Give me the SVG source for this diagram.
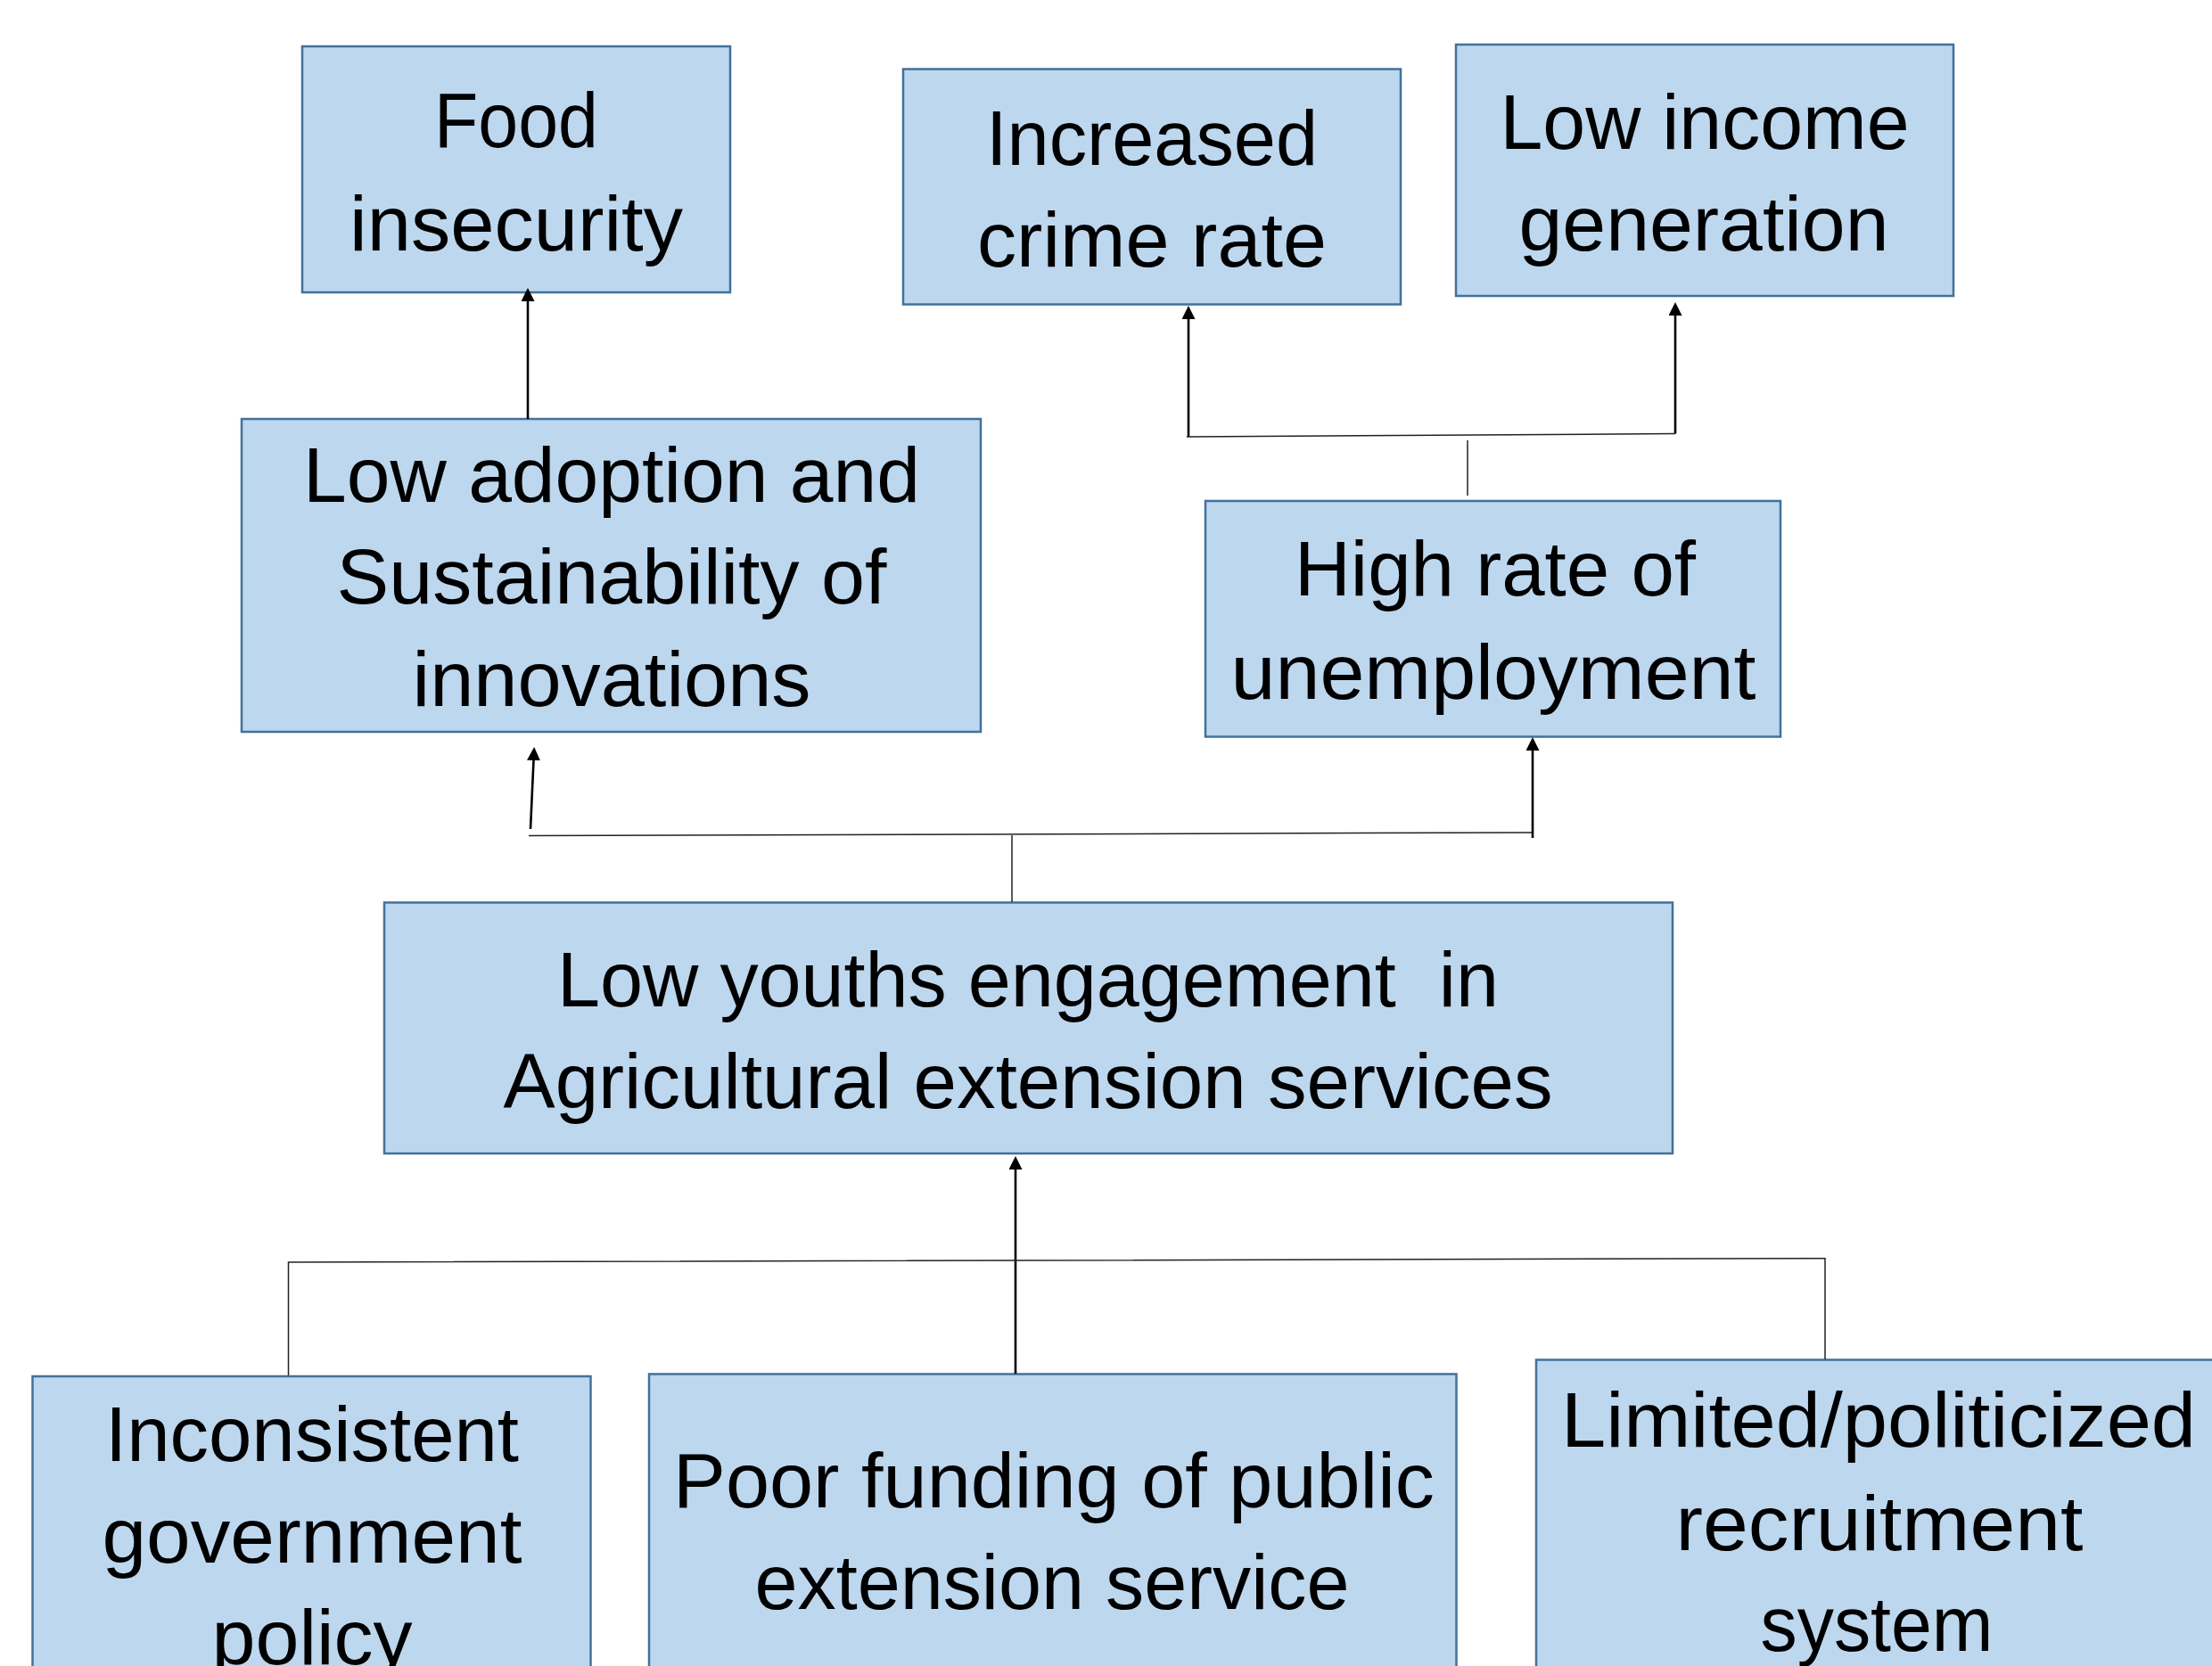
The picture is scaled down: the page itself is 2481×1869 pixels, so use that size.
<svg xmlns="http://www.w3.org/2000/svg" width="2481" height="1869" viewBox="0 0 2481 1869">
<style>
.box{fill:#BDD7EE;stroke:#41719C;stroke-width:2.5}
.t{font-family:"Liberation Sans",Arial,sans-serif;font-size:88px;fill:#000;text-anchor:middle;white-space:pre}
.arr{stroke:#000;stroke-width:2.6;fill:none;marker-end:url(#ah)}
.ln{stroke:#222;stroke-width:1.5;fill:none}
</style>
<defs>
<marker id="ah" viewBox="0 0 15 15" refX="11" refY="7.5" markerWidth="15" markerHeight="15" markerUnits="userSpaceOnUse" orient="auto">
<path d="M0,0 L15,7.5 L0,15 z" fill="#000"/>
</marker>
</defs>
<rect width="2481" height="1869" fill="#fff"/>
<g id="food-insecurity">
<rect class="box" x="339" y="52" width="480" height="276"/>
<text class="t" x="579" y="165" textLength="184" lengthAdjust="spacingAndGlyphs">Food</text>
<text class="t" x="579" y="281" textLength="374" lengthAdjust="spacingAndGlyphs">insecurity</text>
</g>
<g id="increased-crime-rate">
<rect class="box" x="1013" y="77.5" width="558" height="264"/>
<text class="t" x="1292" y="185" textLength="372" lengthAdjust="spacingAndGlyphs">Increased</text>
<text class="t" x="1292" y="298.5" textLength="392" lengthAdjust="spacingAndGlyphs">crime rate</text>
</g>
<g id="low-income-generation">
<rect class="box" x="1633" y="50" width="558" height="282"/>
<text class="t" x="1912" y="166.5" textLength="459" lengthAdjust="spacingAndGlyphs">Low income</text>
<text class="t" x="1911" y="281" textLength="415" lengthAdjust="spacingAndGlyphs">generation</text>
</g>
<g id="low-adoption">
<rect class="box" x="271" y="470" width="829" height="351"/>
<text class="t" x="686" y="563" textLength="692" lengthAdjust="spacingAndGlyphs">Low adoption and</text>
<text class="t" x="686" y="677" textLength="617" lengthAdjust="spacingAndGlyphs">Sustainability of</text>
<text class="t" x="686" y="792" textLength="447" lengthAdjust="spacingAndGlyphs">innovations</text>
</g>
<g id="high-unemployment">
<rect class="box" x="1352" y="562" width="645" height="264.5"/>
<text class="t" x="1677" y="668" textLength="450" lengthAdjust="spacingAndGlyphs">High rate of</text>
<text class="t" x="1675" y="784" textLength="589" lengthAdjust="spacingAndGlyphs">unemployment</text>
</g>
<g id="low-youths-engagement">
<rect class="box" x="431" y="1012.5" width="1445" height="281.5"/>
<text class="t" x="1153" y="1129" textLength="1056" lengthAdjust="spacingAndGlyphs">Low youths engagement  in</text>
<text class="t" x="1153" y="1243" textLength="1177" lengthAdjust="spacingAndGlyphs">Agricultural extension services</text>
</g>
<g id="inconsistent-policy">
<rect class="box" x="36.5" y="1544" width="626" height="340"/>
<text class="t" x="350" y="1639" textLength="464" lengthAdjust="spacingAndGlyphs">Inconsistent</text>
<text class="t" x="350" y="1753" textLength="471" lengthAdjust="spacingAndGlyphs">government</text>
<text class="t" x="350" y="1867" textLength="225" lengthAdjust="spacingAndGlyphs">policy</text>
</g>
<g id="poor-funding">
<rect class="box" x="728" y="1541.5" width="905.5" height="342"/>
<text class="t" x="1182" y="1691" textLength="854" lengthAdjust="spacingAndGlyphs">Poor funding of public</text>
<text class="t" x="1180" y="1805" textLength="667" lengthAdjust="spacingAndGlyphs">extension service</text>
</g>
<g id="limited-recruitment">
<rect class="box" x="1723" y="1525.5" width="770" height="360"/>
<text class="t" x="2107" y="1623" textLength="712" lengthAdjust="spacingAndGlyphs">Limited/politicized</text>
<text class="t" x="2108" y="1739" textLength="457" lengthAdjust="spacingAndGlyphs">recruitment</text>
<text class="t" x="2105" y="1852" textLength="261" lengthAdjust="spacingAndGlyphs">system</text>
</g>
<g id="connectors">
<line class="arr" x1="592" y1="470" x2="592" y2="327"/>
<line class="arr" x1="595" y1="930" x2="599" y2="842"/>
<line class="ln" x1="593" y1="937.5" x2="1719" y2="934"/>
<line class="ln" x1="1135" y1="937" x2="1135" y2="1012"/>
<line class="arr" x1="1719" y1="940" x2="1719" y2="831"/>
<line class="arr" x1="1333" y1="490" x2="1333" y2="347"/>
<line class="arr" x1="1879" y1="486.5" x2="1879" y2="343"/>
<line class="ln" x1="1331" y1="490" x2="1879" y2="486.5"/>
<line class="ln" x1="1646" y1="494" x2="1646" y2="556"/>
<line class="arr" x1="1139" y1="1541" x2="1139" y2="1301"/>
<polyline class="ln" points="323.5,1543 323.5,1416 2047,1411.7 2047,1525"/>
</g>
</svg>
